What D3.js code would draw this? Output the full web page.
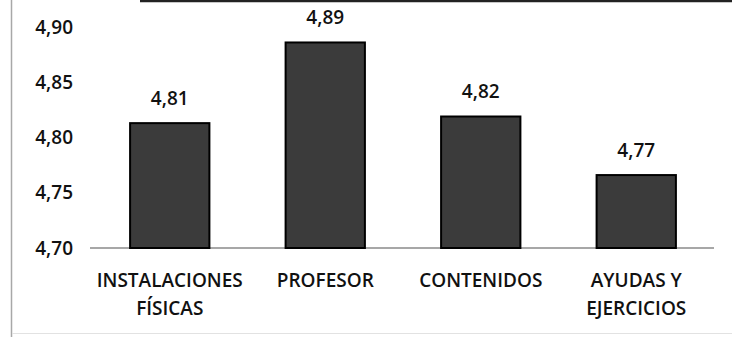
<!DOCTYPE html>
<html>
<head>
<meta charset="utf-8">
<script src="https://cdn.jsdelivr.net/npm/d3@7"></script>
<style>
  body { margin: 0; background: #fff; }
  svg { display: block; }
  text { font-family: "Open Sans", sans-serif; fill: #111; font-weight: 600; }
</style>
</head>
<body>
<div id="vis"></div>
<script>
// data
const categories = [['INSTALACIONES', 'FÍSICAS'], ['PROFESOR'], ['CONTENIDOS'], ['AYUDAS Y', 'EJERCICIOS']]
const values = [4.813, 4.886, 4.819, 4.766]
const yTicks = [4.70, 4.75, 4.80, 4.85, 4.90]

const W = 732, H = 337
const margin = { left: 92, right: 18, top: 27, bottom: 89 }

const svg = d3.select('#vis').append('svg')
  .attr('width', W)
  .attr('height', H)

// frame edges of the scanned page
svg.append('line')
  .attr('x1', 11.5).attr('x2', 11.5).attr('y1', 0).attr('y2', H)
  .attr('stroke', '#a8a8a8').attr('stroke-width', 1.5)
svg.append('line')
  .attr('x1', 140).attr('x2', W).attr('y1', 1).attr('y2', 1)
  .attr('stroke', '#222').attr('stroke-width', 2.5)
svg.append('line')
  .attr('x1', 12).attr('x2', W).attr('y1', 333.5).attr('y2', 333.5)
  .attr('stroke', '#e2e2e2').attr('stroke-width', 1)

const x = d3.scaleBand()
  .domain(d3.range(values.length))
  .range([margin.left, W - margin.right])
  .paddingInner(0.49)
  .paddingOuter(0.245)

const y = d3.scaleLinear()
  .domain([4.70, 4.90])
  .range([H - margin.bottom, margin.top])

const fmt = v => d3.format('.2f')(v).replace('.', ',')

// y labels, no axis line
svg.append('g')
  .selectAll('text')
  .data(yTicks)
  .join('text')
  .attr('x', 73)
  .attr('y', d => y(d))
  .attr('dy', '0.35em')
  .attr('text-anchor', 'end')
  .attr('font-size', 19)
  .text(fmt)

// baseline
svg.append('line')
  .attr('x1', margin.left - 2).attr('x2', W - margin.right)
  .attr('y1', y(4.70)).attr('y2', y(4.70))
  .attr('stroke', '#8a8a8a').attr('stroke-width', 1.5)

// bars
svg.append('g')
  .selectAll('rect')
  .data(values)
  .join('rect')
  .attr('x', (d, i) => x(i))
  .attr('y', d => y(d))
  .attr('width', x.bandwidth())
  .attr('height', d => y(4.70) - y(d))
  .attr('fill', '#3b3b3b')
  .attr('stroke', '#000')
  .attr('stroke-width', 2)

// value labels
svg.append('g')
  .selectAll('text')
  .data(values)
  .join('text')
  .attr('x', (d, i) => x(i) + x.bandwidth() / 2)
  .attr('y', d => y(d) - 25)
  .attr('dy', '0.35em')
  .attr('text-anchor', 'middle')
  .attr('font-size', 19)
  .text(fmt)

// category labels, one or two lines
const cat = svg.append('g')
  .selectAll('text')
  .data(categories)
  .join('text')
  .attr('text-anchor', 'middle')
  .attr('font-size', 19)
  .attr('transform', (d, i) => `translate(${x(i) + x.bandwidth() / 2},${y(4.70) + 39})`)

cat.selectAll('tspan')
  .data(d => d)
  .join('tspan')
  .attr('x', 0)
  .attr('y', (d, i) => i * 28)
  .text(d => d)
</script>
</body>
</html>
